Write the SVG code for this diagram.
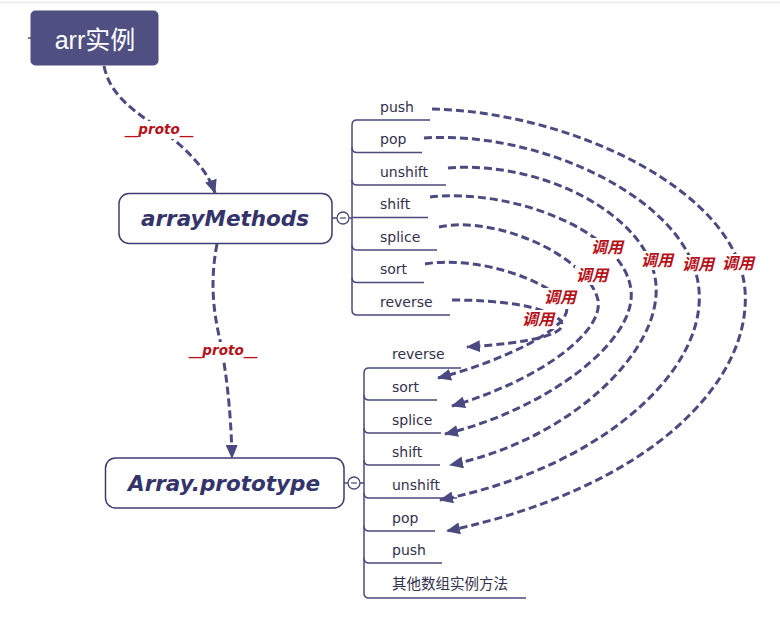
<svg xmlns="http://www.w3.org/2000/svg" width="780" height="629" viewBox="0 0 780 629">
<defs>
<style>
.item{font-family:"DejaVu Sans","Noto Sans CJK SC",sans-serif;font-size:14px;fill:#33304d}
.cjk{font-family:"Noto Sans CJK SC",sans-serif;font-size:14.5px;fill:#33304d}
.title{font-family:"DejaVu Sans",sans-serif;font-size:21.5px;font-weight:bold;font-style:italic;fill:#34346a;text-anchor:middle}
.box{fill:#fff;stroke:#3d3d72;stroke-width:1.5}
.br{fill:none;stroke:#4a4a7c;stroke-width:1.5}
.dash{fill:none;stroke:#4b4b80;stroke-width:3;stroke-dasharray:8 4;marker-end:url(#ah)}
.lblbg{fill:#fff}
.call{font-family:"Noto Sans CJK SC",sans-serif;font-size:16px;font-weight:bold;font-style:italic;fill:#b5121b;text-anchor:middle}
.proto{font-family:"DejaVu Sans",sans-serif;font-size:13.5px;font-weight:bold;font-style:italic;fill:#b5121b;text-anchor:middle}
</style>
<marker id="ah" viewBox="0 0 14 12" refX="13" refY="6" markerWidth="14" markerHeight="12" markerUnits="userSpaceOnUse" orient="auto">
<path d="M0,0 L14,6 L0,12 Z" fill="#4a4a80"/>
</marker>
</defs>
<rect width="780" height="629" fill="#fff"/>
<line x1="0" y1="2.5" x2="780" y2="2.5" stroke="#e8e8ee" stroke-width="1.5"/>
<line x1="28" y1="38" x2="31" y2="38" stroke="#555" stroke-width="1.5"/>

<g id="node-arr">
<rect x="30.5" y="10.5" width="128" height="55" rx="5" fill="#4f4f82"/>
<text x="95" y="49" font-family="Liberation Sans,Noto Sans CJK SC,sans-serif" font-size="25" fill="#fff" text-anchor="middle">arr实例</text>
</g>

<g id="node-arrayMethods">
<rect class="box" x="119" y="193.5" width="213" height="50" rx="10"/>
<text class="title" x="225" y="226">arrayMethods</text>
<line class="br" x1="332" y1="218" x2="337" y2="218"/>
<circle cx="343" cy="218" r="6" fill="#fff" stroke="#4a4a7c" stroke-width="1.3"/>
<line x1="340" y1="218" x2="346" y2="218" stroke="#4a4a7c" stroke-width="1.2"/>
<path class="br" d="M349,218 L352,218"/>
<path class="br" d="M352,125 L352,310"/>
<path class="br" d="M352,125 Q352,120 357,120 L430,120"/>
<path class="br" d="M352,147.5 Q352,152.5 357,152.5 L422,152.5"/>
<path class="br" d="M352,180 Q352,185 357,185 L446,185"/>
<path class="br" d="M352,217.5 L428,217.5"/>
<path class="br" d="M352,245 Q352,250 357,250 L437,250"/>
<path class="br" d="M352,277.5 Q352,282.5 357,282.5 L424,282.5"/>
<path class="br" d="M352,310 Q352,315 357,315 L450,315"/>
<text class="item" x="380" y="111.5">push</text>
<text class="item" x="380" y="144">pop</text>
<text class="item" x="380" y="176.5">unshift</text>
<text class="item" x="380" y="209">shift</text>
<text class="item" x="380" y="241.5">splice</text>
<text class="item" x="380" y="274">sort</text>
<text class="item" x="380" y="306.5">reverse</text>
</g>

<g id="node-ArrayPrototype">
<rect class="box" x="105.5" y="458" width="238.5" height="50" rx="10"/>
<text class="title" x="224" y="491">Array.prototype</text>
<line class="br" x1="344" y1="483" x2="348" y2="483"/>
<circle cx="354" cy="483" r="6" fill="#fff" stroke="#4a4a7c" stroke-width="1.3"/>
<line x1="351" y1="483" x2="357" y2="483" stroke="#4a4a7c" stroke-width="1.2"/>
<path class="br" d="M360,483 L364,483"/>
<path class="br" d="M364,373 L364,593"/>
<path class="br" d="M364,373 Q364,368 369,368 L461,368"/>
<path class="br" d="M364,395 Q364,400 369,400 L437,400"/>
<path class="br" d="M364,428 Q364,433 369,433 L441,433"/>
<path class="br" d="M364,460 Q364,465 369,465 L440,465"/>
<path class="br" d="M364,493 Q364,498 369,498 L457,498"/>
<path class="br" d="M364,526 Q364,531 369,531 L435,531"/>
<path class="br" d="M364,558 Q364,563 369,563 L442,563"/>
<path class="br" d="M364,593 Q364,598 369,598 L526,598"/>
<text class="item" x="392" y="358.5">reverse</text>
<text class="item" x="392" y="391.5">sort</text>
<text class="item" x="392" y="424.5">splice</text>
<text class="item" x="392" y="456.5">shift</text>
<text class="item" x="392" y="489.5">unshift</text>
<text class="item" x="392" y="522.5">pop</text>
<text class="item" x="392" y="554.5">push</text>
<text class="cjk" x="392" y="589">其他数组实例方法</text>
</g>

<g id="connectors">
<path class="dash" d="M104,66 C112,105 150,118 180,145 C200,163 210,178 215,193"/>
<path class="dash" d="M217,244 C210,280 213,310 220,340 C226,370 231,410 232,458"/>
<path class="dash" d="M452,300 C500,300 545,306 560,320 C572,334 530,343 467,347"/>
<path class="dash" d="M425,264 C475,255 550,280 566,305 C576,327 500,362 438,378"/>
<path class="dash" d="M439,227 C495,215 587,255 598,300 C604,332 540,380 452,406"/>
<path class="dash" d="M430,197 C510,188 624,230 631,290 C637,342 545,410 445,434"/>
<path class="dash" d="M448,168 C540,160 651,215 656,285 C661,352 570,440 450,465"/>
<path class="dash" d="M424,138 C540,130 692,200 699,290 C706,372 600,468 440,500"/>
<path class="dash" d="M432,109 C570,112 737,190 745,290 C752,382 650,488 447,531"/>
</g>

<g id="labels">
<rect class="lblbg" x="123" y="121" width="72" height="18"/>
<text class="proto" x="159" y="134">__proto__</text>
<rect class="lblbg" x="187" y="342" width="72" height="18"/>
<text class="proto" x="223" y="355">__proto__</text>
<rect class="lblbg" x="590" y="238" width="34" height="19"/>
<text class="call" x="607" y="253">调用</text>
<rect class="lblbg" x="640" y="251" width="34" height="19"/>
<text class="call" x="657" y="266">调用</text>
<rect class="lblbg" x="681" y="255" width="34" height="19"/>
<text class="call" x="698" y="270">调用</text>
<rect class="lblbg" x="721" y="254" width="34" height="19"/>
<text class="call" x="738" y="269">调用</text>
<rect class="lblbg" x="575" y="266" width="34" height="19"/>
<text class="call" x="592" y="281">调用</text>
<rect class="lblbg" x="543" y="288" width="34" height="19"/>
<text class="call" x="560" y="303">调用</text>
<rect class="lblbg" x="521" y="310" width="34" height="19"/>
<text class="call" x="538" y="325">调用</text>
</g>
</svg>
